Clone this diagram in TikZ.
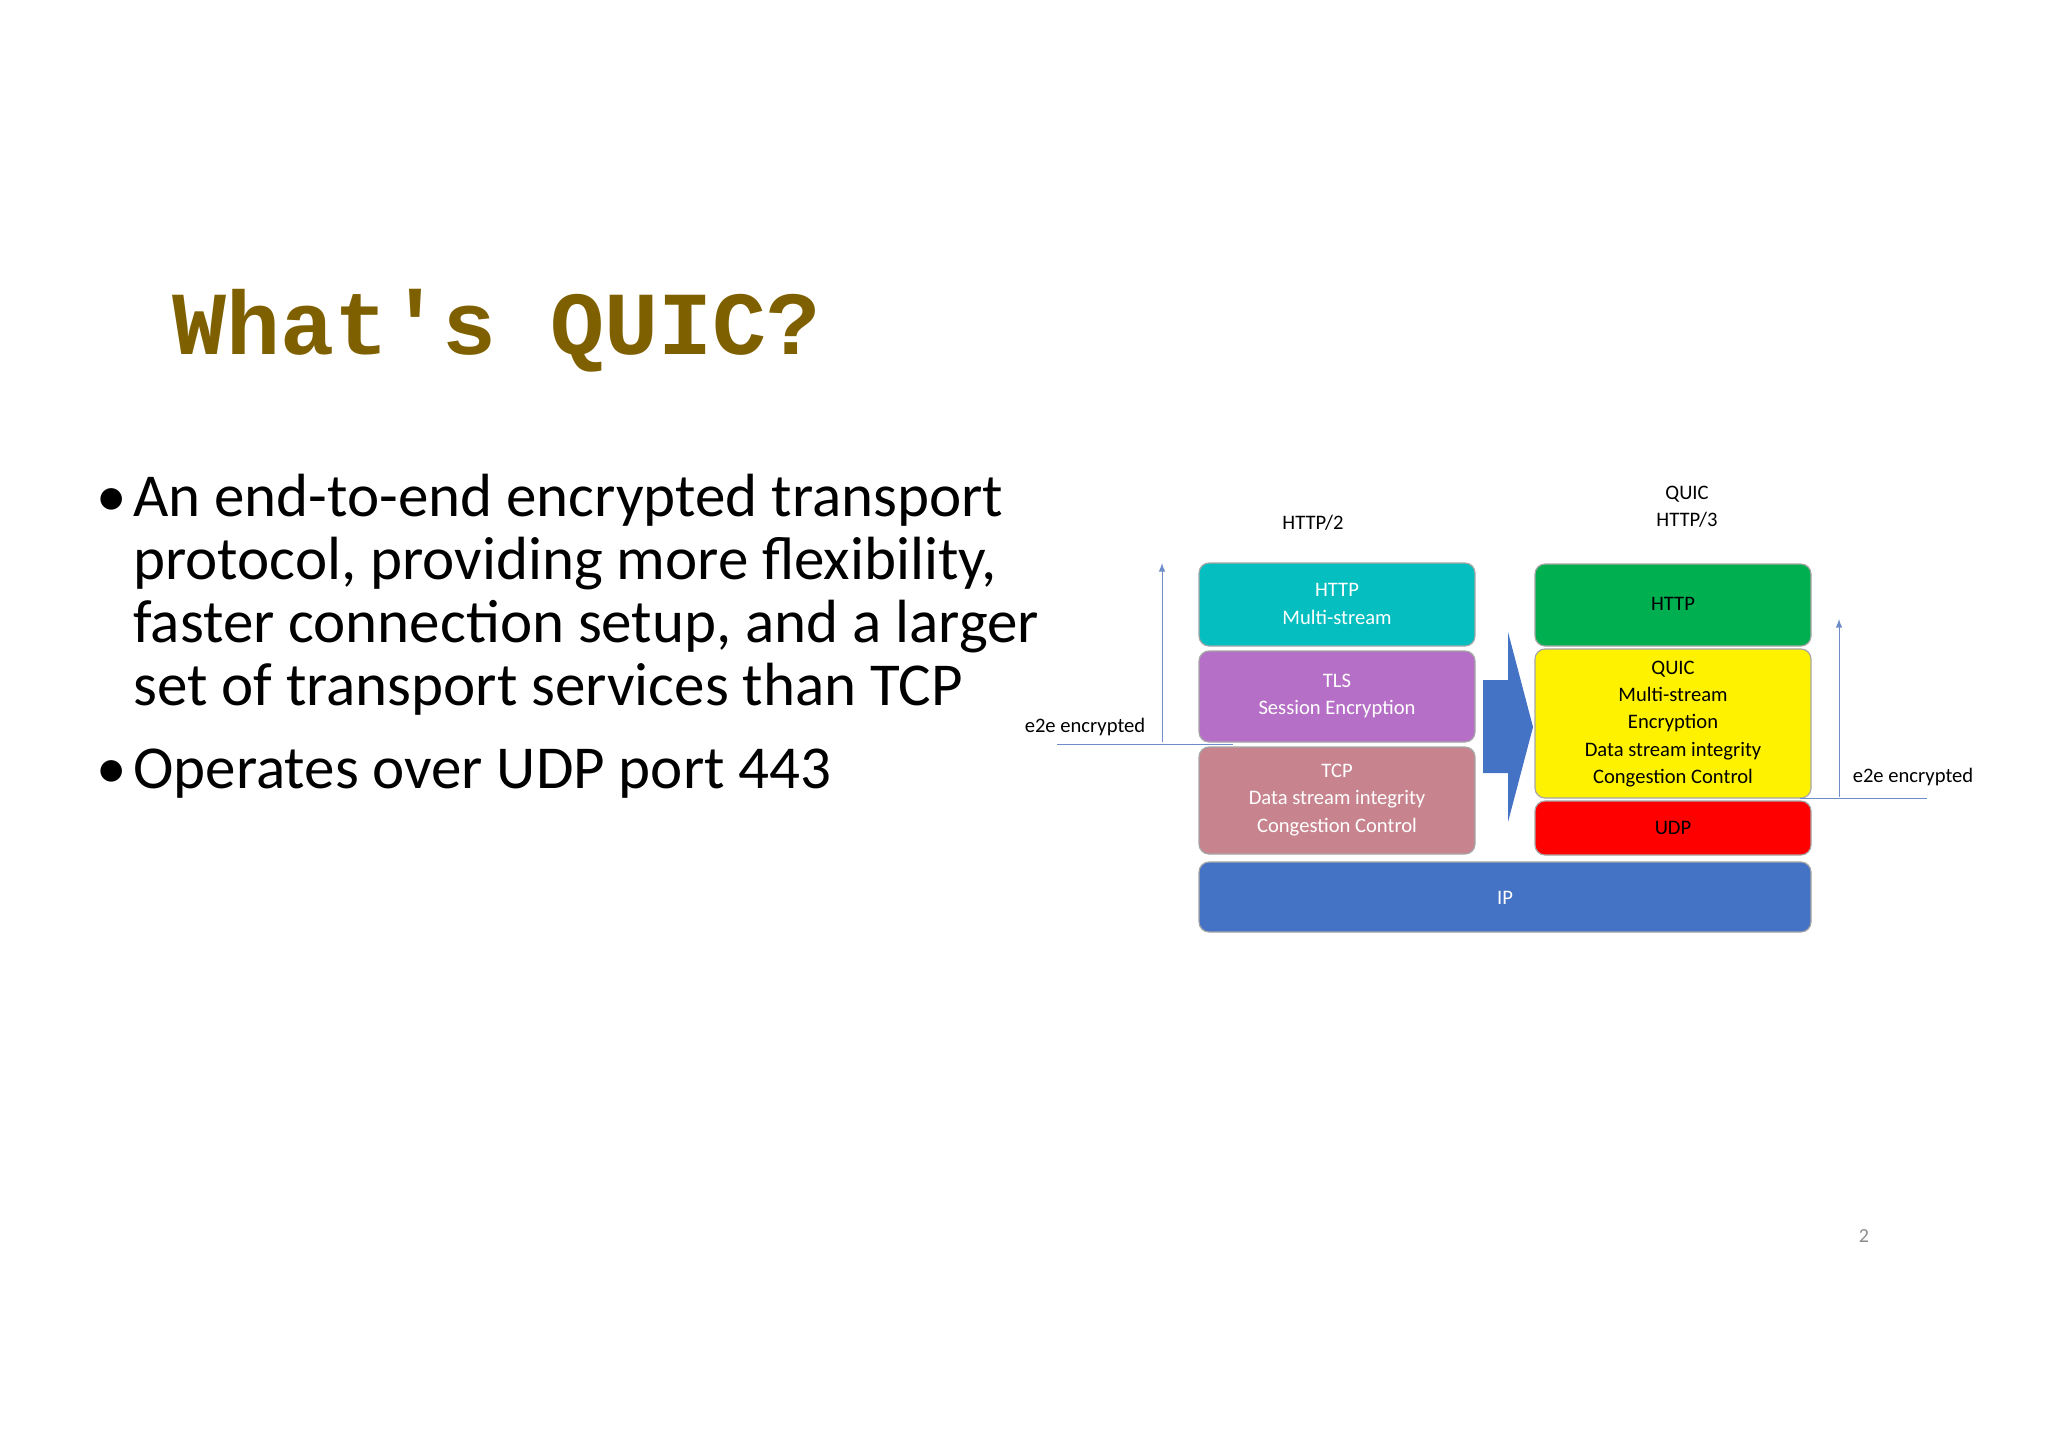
\documentclass[tikz,border=0pt]{standalone}
\usepackage{fontspec}
\setmainfont{Carlito}
\newfontfamily\titlefont{Liberation Mono}
\definecolor{ctitle}{RGB}{127,96,0}
\definecolor{cteal}{RGB}{5,190,192}
\definecolor{cpurple}{RGB}{182,111,198}
\definecolor{ctcp}{RGB}{200,132,142}
\definecolor{cip}{RGB}{68,114,196}
\definecolor{cgreen}{RGB}{0,176,80}
\definecolor{cline}{RGB}{110,140,200}
\begin{document}
\begin{tikzpicture}[x=0.5pt,y=-0.5pt,
  lay/.style={draw=black!35,line width=0.6pt,rounded corners=5pt},
  ltxt/.style={font=\fontsize{10.3}{13.7}\selectfont,align=center,inner sep=0pt},
  btxt/.style={font=\fontsize{30.5}{31.5}\selectfont,anchor=base west,inner sep=0pt},
  thin/.style={draw=cline,line width=0.5pt}]
\useasboundingbox (0,0) rectangle (2048,1448);
\node[anchor=base west,inner sep=0pt,text=ctitle,font=\titlefont\bfseries\fontsize{45}{45}\selectfont] (title) at (172,354) {What's QUIC?};
\node[btxt] (b1) at (96,516) {•};
\node[btxt] (l1) at (133,516) {An end-to-end encrypted transport};
\node[btxt] (l2) at (133,579) {protocol, providing more flexibility,};
\node[btxt] (l3) at (133,642) {faster connection setup, and a larger};
\node[btxt] (l4) at (133,705) {set of transport services than TCP};
\node[btxt] (b2) at (96,788) {•};
\node[btxt] (l5) at (133,788) {Operates over UDP port 443};
% left stack
\filldraw[lay,fill=cteal] (1199,563) rectangle (1475,646);
\node[ltxt,text=white] (h2) at (1337,604) {HTTP\\Multi-stream};
\filldraw[lay,fill=cpurple] (1199,651) rectangle (1475,742);
\node[ltxt,text=white] (tls) at (1337,696) {TLS\\Session Encryption};
\filldraw[lay,fill=ctcp] (1199,747) rectangle (1475,854);
\node[ltxt,text=white] (tcp) at (1337,800) {TCP\\Data stream integrity\\Congestion Control};
\filldraw[lay,fill=cip] (1199,862) rectangle (1811,932);
\node[ltxt,text=white] (ip) at (1505,898) {IP};
% right stack
\filldraw[lay,fill=cgreen] (1535,564) rectangle (1811,646);
\node[ltxt] (h3) at (1673,604) {HTTP};
\filldraw[lay,fill=yellow] (1535,649) rectangle (1811,798);
\node[ltxt] (quic) at (1673,724) {QUIC\\Multi-stream\\Encryption\\Data stream integrity\\Congestion Control};
\filldraw[lay,fill=red] (1535,801) rectangle (1811,855);
\node[ltxt] (udp) at (1673,828) {UDP};
% block arrow
\fill[cip] (1483,680) -- (1508,680) -- (1508,632) -- (1533,727) -- (1508,822) -- (1508,773) -- (1483,773) -- cycle;
% labels
\node[ltxt] (lh2) at (1313,523) {HTTP/2};
\node[ltxt] (lh3) at (1687,507) {QUIC\\HTTP/3};
\node[ltxt] (e1) at (1085,727) {e2e encrypted};
\node[ltxt] (e2) at (1913,777) {e2e encrypted};
\coordinate (a1s) at (1162,742); \coordinate (a1e) at (1162,563);
\coordinate (a2s) at (1839,797); \coordinate (a2e) at (1839,619);
\draw[thin,-latex] (a1s) -- (a1e);
\draw[thin,-latex] (a2s) -- (a2e);
\coordinate (h1a) at (1057,744); \coordinate (h1b) at (1233,744);
\coordinate (h2a) at (1800,798); \coordinate (h2b) at (1927,798);
\draw[thin] (h1a) -- (h1b);
\draw[thin] (h2a) -- (h2b);
\node[text=black!45,font=\fontsize{10}{12}\selectfont] (pg) at (1864,1236) {2};
\end{tikzpicture}
\end{document}
